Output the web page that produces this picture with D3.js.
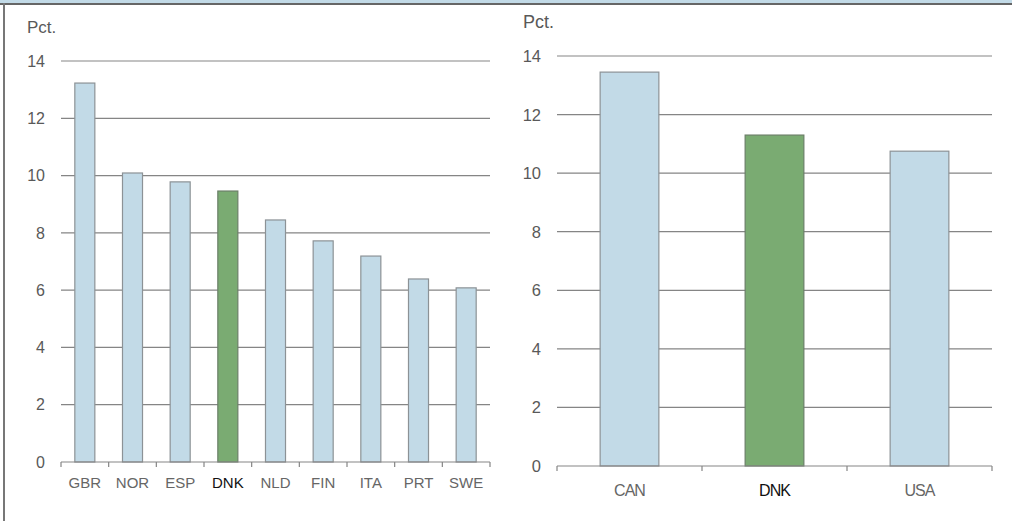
<!DOCTYPE html>
<html>
<head>
<meta charset="utf-8">
<script src="https://cdn.jsdelivr.net/npm/d3@7"></script>
<style>
  body { margin: 0; background: #fff; }
  svg text { font-family: "Liberation Sans", Arial, sans-serif; }
</style>
</head>
<body>
<div id="chart"></div>
<script>
// left panel: european countries
var leftCountries = ["GBR","NOR","ESP","DNK","NLD","FIN","ITA","PRT","SWE"];
var leftValues = [13.23, 10.09, 9.78, 9.46, 8.45, 7.72, 7.19, 6.39, 6.08];
// right panel
var rightCountries = ["CAN","DNK","USA"];
var rightValues = [13.45, 11.30, 10.75];
var yTicks = [0, 2, 4, 6, 8, 10, 12, 14];

var W = 1012, H = 521;
var blue = "#c2dae7", green = "#7aab72";

var svg = d3.select("#chart").append("svg")
    .attr("width", W)
    .attr("height", H);

// frame
svg.append("rect").attr("x", 0).attr("y", 0).attr("width", W).attr("height", 3).attr("fill", "#c2dae7");
svg.append("line").attr("x1", 0).attr("x2", W).attr("y1", 4).attr("y2", 4)
    .attr("stroke", "#666").attr("stroke-width", 2);
svg.append("line").attr("x1", 4).attr("x2", 4).attr("y1", 3).attr("y2", H)
    .attr("stroke", "#777").attr("stroke-width", 2);

function drawPanel(cfg)
{
    var g = svg.append("g");

    var x = d3.scaleBand()
        .domain(cfg.cats)
        .range([cfg.x0, cfg.x1]);
    var y = d3.scaleLinear()
        .domain([0, 14])
        .range([cfg.y0, cfg.y1]);

    // gridlines
    g.selectAll(".grid")
        .data(yTicks.filter(function(d){ return d > 0; }))
        .enter().append("line")
        .attr("x1", cfg.x0).attr("x2", cfg.x1)
        .attr("y1", function(d){ return y(d); })
        .attr("y2", function(d){ return y(d); })
        .attr("stroke", "#858585").attr("stroke-width", 1.2);

    // y labels
    g.selectAll(".ylab")
        .data(yTicks)
        .enter().append("text")
        .attr("x", cfg.labX)
        .attr("y", function(d){ return y(d); })
        .attr("dy", "0.36em")
        .attr("text-anchor", "end")
        .attr("font-size", cfg.yFont)
        .attr("fill", "#595959")
        .text(function(d){ return d; });

    g.append("text")
        .attr("x", cfg.pctX).attr("y", cfg.pctY)
        .attr("font-size", cfg.pctFont)
        .attr("fill", "#595959")
        .text("Pct.");

    // bars
    var bw = x.bandwidth() * cfg.barFrac;
    g.selectAll(".bar")
        .data(cfg.vals)
        .enter().append("rect")
        .attr("x", function(d, i){ return x(cfg.cats[i]) + (x.bandwidth() - bw) / 2; })
        .attr("width", bw)
        .attr("y", function(d){ return y(d); })
        .attr("height", function(d){ return y(0) - y(d); })
        .attr("fill", function(d, i){ return cfg.cats[i] == "DNK" ? green : blue; })
        .attr("stroke", function(d, i){ return cfg.cats[i] == "DNK" ? "#6b7f68" : "#8c9296"; })
        .attr("stroke-width", 1.2);

    // x axis
    g.append("line")
        .attr("x1", cfg.x0).attr("x2", cfg.x1)
        .attr("y1", y(0)).attr("y2", y(0))
        .attr("stroke", "#858585").attr("stroke-width", 1.2);
    var bounds = cfg.cats.map(function(c){ return x(c); }).concat([cfg.x1]);
    g.selectAll(".tick")
        .data(bounds)
        .enter().append("line")
        .attr("x1", function(d){ return d; }).attr("x2", function(d){ return d; })
        .attr("y1", y(0)).attr("y2", y(0) + 5)
        .attr("stroke", "#858585").attr("stroke-width", 1.2);

    g.selectAll(".xlab")
        .data(cfg.cats)
        .enter().append("text")
        .attr("x", function(d){ return x(d) + x.bandwidth() / 2; })
        .attr("y", y(0) + cfg.xlabDy)
        .attr("text-anchor", "middle")
        .attr("font-size", cfg.xFont)
        .attr("letter-spacing", cfg.xSpacing)
        .attr("fill", function(d){ return d == "DNK" ? "#111" : "#666"; })
        .text(function(d){ return d; });
}

drawPanel({cats: leftCountries, vals: leftValues, x0: 61, x1: 490, y0: 462, y1: 61,
    barFrac: 0.42, labX: 45, yFont: 16, pctX: 27, pctY: 33, pctFont: 17,
    xlabDy: 26, xFont: 15, xSpacing: 0});
drawPanel({cats: rightCountries, vals: rightValues, x0: 557, x1: 992, y0: 466, y1: 56,
    barFrac: 0.405, labX: 541, yFont: 16.5, pctX: 523, pctY: 28, pctFont: 18,
    xlabDy: 30, xFont: 16, xSpacing: -1});
</script>
</body>
</html>
